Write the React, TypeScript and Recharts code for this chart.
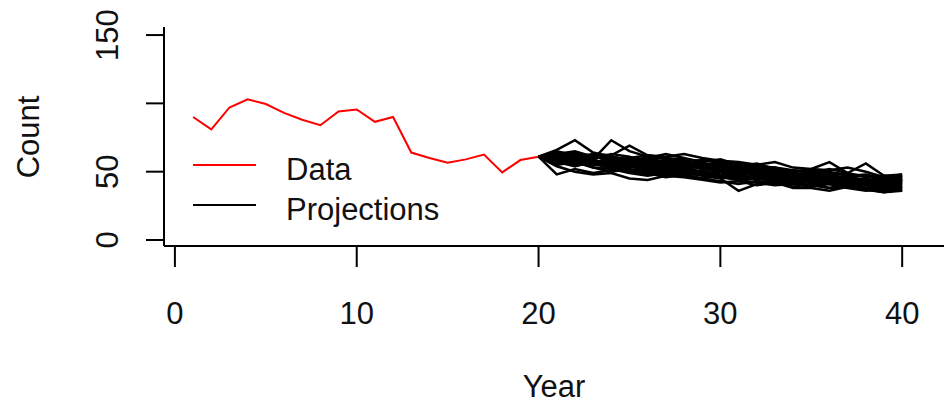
import { LineChart, Line, XAxis, YAxis } from 'recharts'

// observed counts, years 1-20
const dataYears = [1, 2, 3, 4, 5, 6, 7, 8, 9, 10, 11, 12, 13, 14, 15, 16, 17, 18, 19, 20]
const dataCounts = [90, 81, 97, 103, 99.5, 93, 88, 84, 94, 95.5, 86.5, 90, 64, 60, 56.5, 59, 62.5, 49.5, 58.5, 61]

// projected runs, years 20-40
const projYears = [20, 21, 22, 23, 24, 25, 26, 27, 28, 29, 30, 31, 32, 33, 34, 35, 36, 37, 38, 39, 40]
const projections = [
  [61, 66, 73, 64, 61, 59, 60, 57, 58, 55, 56, 53, 54, 52, 50, 51, 49, 48, 47, 45, 46],
  [61, 57, 54, 58, 55, 51, 53, 50, 52, 49, 47, 45, 46, 44, 43, 42, 44, 41, 40, 39, 38],
  [61, 62, 60, 59, 73, 65, 61, 59, 57, 56, 54, 52, 53, 51, 48, 49, 47, 46, 47, 44, 45],
  [61, 48, 52, 49, 51, 54, 52, 49, 51, 48, 46, 44, 45, 43, 41, 40, 42, 39, 41, 38, 40],
  [61, 64, 61, 63, 62, 69, 62, 60, 59, 58, 57, 56, 54, 53, 51, 50, 49, 48, 47, 46, 44],
  [61, 58, 59, 55, 54, 50, 48, 52, 49, 47, 45, 36, 41, 43, 42, 40, 38, 41, 38, 37, 39],
  [61, 63, 65, 61, 59, 58, 60, 63, 60, 57, 59, 55, 52, 53, 49, 48, 50, 47, 48, 45, 44],
  [61, 54, 50, 48, 49, 45, 44, 47, 46, 44, 42, 43, 40, 42, 38, 38, 36, 39, 37, 35, 37],
  [61, 65, 62, 59, 63, 61, 57, 56, 54, 59, 56, 54, 56, 52, 50, 52, 57, 49, 46, 47, 46],
  [61, 59, 56, 55, 57, 54, 56, 52, 55, 52, 50, 51, 49, 47, 48, 45, 44, 46, 43, 42, 43],
  [61, 60, 57, 59, 54, 56, 52, 50, 48, 51, 46, 48, 45, 44, 46, 42, 41, 39, 40, 36, 38],
  [61, 57, 59, 62, 60, 58, 59, 57, 55, 56, 54, 51, 53, 50, 51, 49, 52, 49, 56, 47, 48],
  [61, 62, 58, 53, 52, 49, 47, 49, 47, 45, 43, 41, 43, 42, 39, 41, 38, 39, 37, 35, 36],
  [61, 56, 60, 57, 55, 58, 57, 54, 57, 54, 52, 53, 50, 51, 47, 46, 48, 45, 44, 45, 44],
  [61, 61, 63, 60, 61, 59, 54, 57, 55, 53, 55, 52, 49, 50, 46, 50, 48, 44, 43, 44, 47],
  [61, 58, 54, 57, 52, 50, 51, 48, 50, 48, 46, 47, 44, 46, 45, 43, 41, 43, 42, 41, 41],
  [61, 59, 61, 57, 59, 55, 53, 56, 53, 55, 51, 48, 50, 47, 49, 44, 46, 44, 43, 43, 43],
  [61, 63, 59, 62, 57, 56, 58, 53, 56, 52, 53, 50, 51, 48, 46, 47, 45, 43, 45, 42, 44],
  [61, 60, 64, 61, 58, 60, 62, 61, 63, 60, 58, 57, 55, 57, 53, 52, 51, 53, 50, 46, 48],
  [61, 55, 57, 53, 50, 52, 49, 46, 48, 45, 47, 44, 42, 40, 41, 39, 41, 38, 36, 37, 36],
  [61, 62, 59, 60, 61, 57, 55, 58, 54, 53, 52, 54, 51, 49, 48, 47, 45, 46, 44, 41, 42],
  [61, 57, 61, 58, 56, 53, 54, 51, 53, 50, 48, 50, 47, 48, 44, 45, 43, 42, 41, 40, 41],
  [61, 64, 60, 57, 58, 60, 58, 55, 52, 54, 51, 49, 48, 46, 47, 45, 47, 44, 42, 43, 42],
  [61, 59, 55, 56, 53, 55, 50, 52, 51, 49, 50, 46, 47, 45, 43, 44, 42, 40, 43, 39, 39],
]

const xTicks = [0, 10, 20, 30, 40]
const yTicks = [0, 50, 100, 150]
const yTickLabels: Record<number, string> = { 0: '0', 50: '50', 100: '', 150: '150' }

const font = "'Liberation Sans', Arial, sans-serif"
const txt = { fontFamily: font, fontSize: 31, fill: '#111' }

const allYears = Array.from(new Set([...dataYears, ...projYears])).sort((a, b) => a - b)
const rows = allYears.map((year) => {
  const row: any = { year }
  const di = dataYears.indexOf(year)
  if (di >= 0) row.data = dataCounts[di]
  const pi = projYears.indexOf(year)
  if (pi >= 0) projections.forEach((p, k) => (row['p' + k] = p[pi]))
  return row
})

const XTick = ({ x, payload }: any) => (
  <text x={x} y={313} textAnchor="middle" dominantBaseline="central" {...txt}>
    {payload.value}
  </text>
)

const YTick = ({ y, payload }: any) => (
  <text
    transform={`translate(107, ${y}) rotate(-90)`}
    textAnchor="middle"
    dominantBaseline="central"
    {...txt}
  >
    {yTickLabels[payload.value]}
  </text>
)

const YearLabel = () => (
  <text x={554} y={386} textAnchor="middle" dominantBaseline="central" {...txt}>
    Year
  </text>
)

const CountLabel = () => (
  <text
    transform="translate(28, 137) rotate(-90)"
    textAnchor="middle"
    dominantBaseline="central"
    {...txt}
  >
    Count
  </text>
)

const axisStyle = { stroke: '#000', strokeWidth: 2 }

export default function App() {
  return (
    <div style={{ position: 'absolute', left: 0, top: 0, width: 944, height: 405, background: '#fff' }}>
      <LineChart width={944} height={405} data={rows} margin={{ top: 27, right: 0, bottom: 0, left: 0 }}>
        <XAxis
          dataKey="year"
          type="number"
          domain={[-0.6, 42.3]}
          allowDataOverflow
          ticks={xTicks}
          height={159}
          tickSize={21}
          axisLine={axisStyle}
          tickLine={axisStyle}
          tick={XTick}
          label={YearLabel}
        />
        <YAxis
          type="number"
          domain={[-4.4, 155.9]}
          allowDataOverflow
          ticks={yTicks}
          width={164}
          tickSize={18}
          axisLine={axisStyle}
          tickLine={axisStyle}
          tick={YTick}
          label={CountLabel}
        />
        <Line
          type="linear"
          dataKey="data"
          stroke="#ff0000"
          strokeWidth={2}
          dot={false}
          isAnimationActive={false}
        />
        {projections.map((_, k) => (
          <Line
            key={k}
            type="linear"
            dataKey={'p' + k}
            stroke="#000"
            strokeWidth={2.5}
            dot={false}
            isAnimationActive={false}
          />
        ))}
      </LineChart>
      <div style={{ position: 'absolute', left: 190, top: 145, pointerEvents: 'none' }}>
        <svg width={280} height={85}>
          <line x1={3} y1={20} x2={66} y2={20} stroke="#ff0000" strokeWidth={2} />
          <text x={96} y={24} dominantBaseline="central" {...txt}>Data</text>
          <line x1={3} y1={60} x2={66} y2={60} stroke="#000" strokeWidth={2} />
          <text x={96} y={64} dominantBaseline="central" {...txt}>Projections</text>
        </svg>
      </div>
    </div>
  )
}
